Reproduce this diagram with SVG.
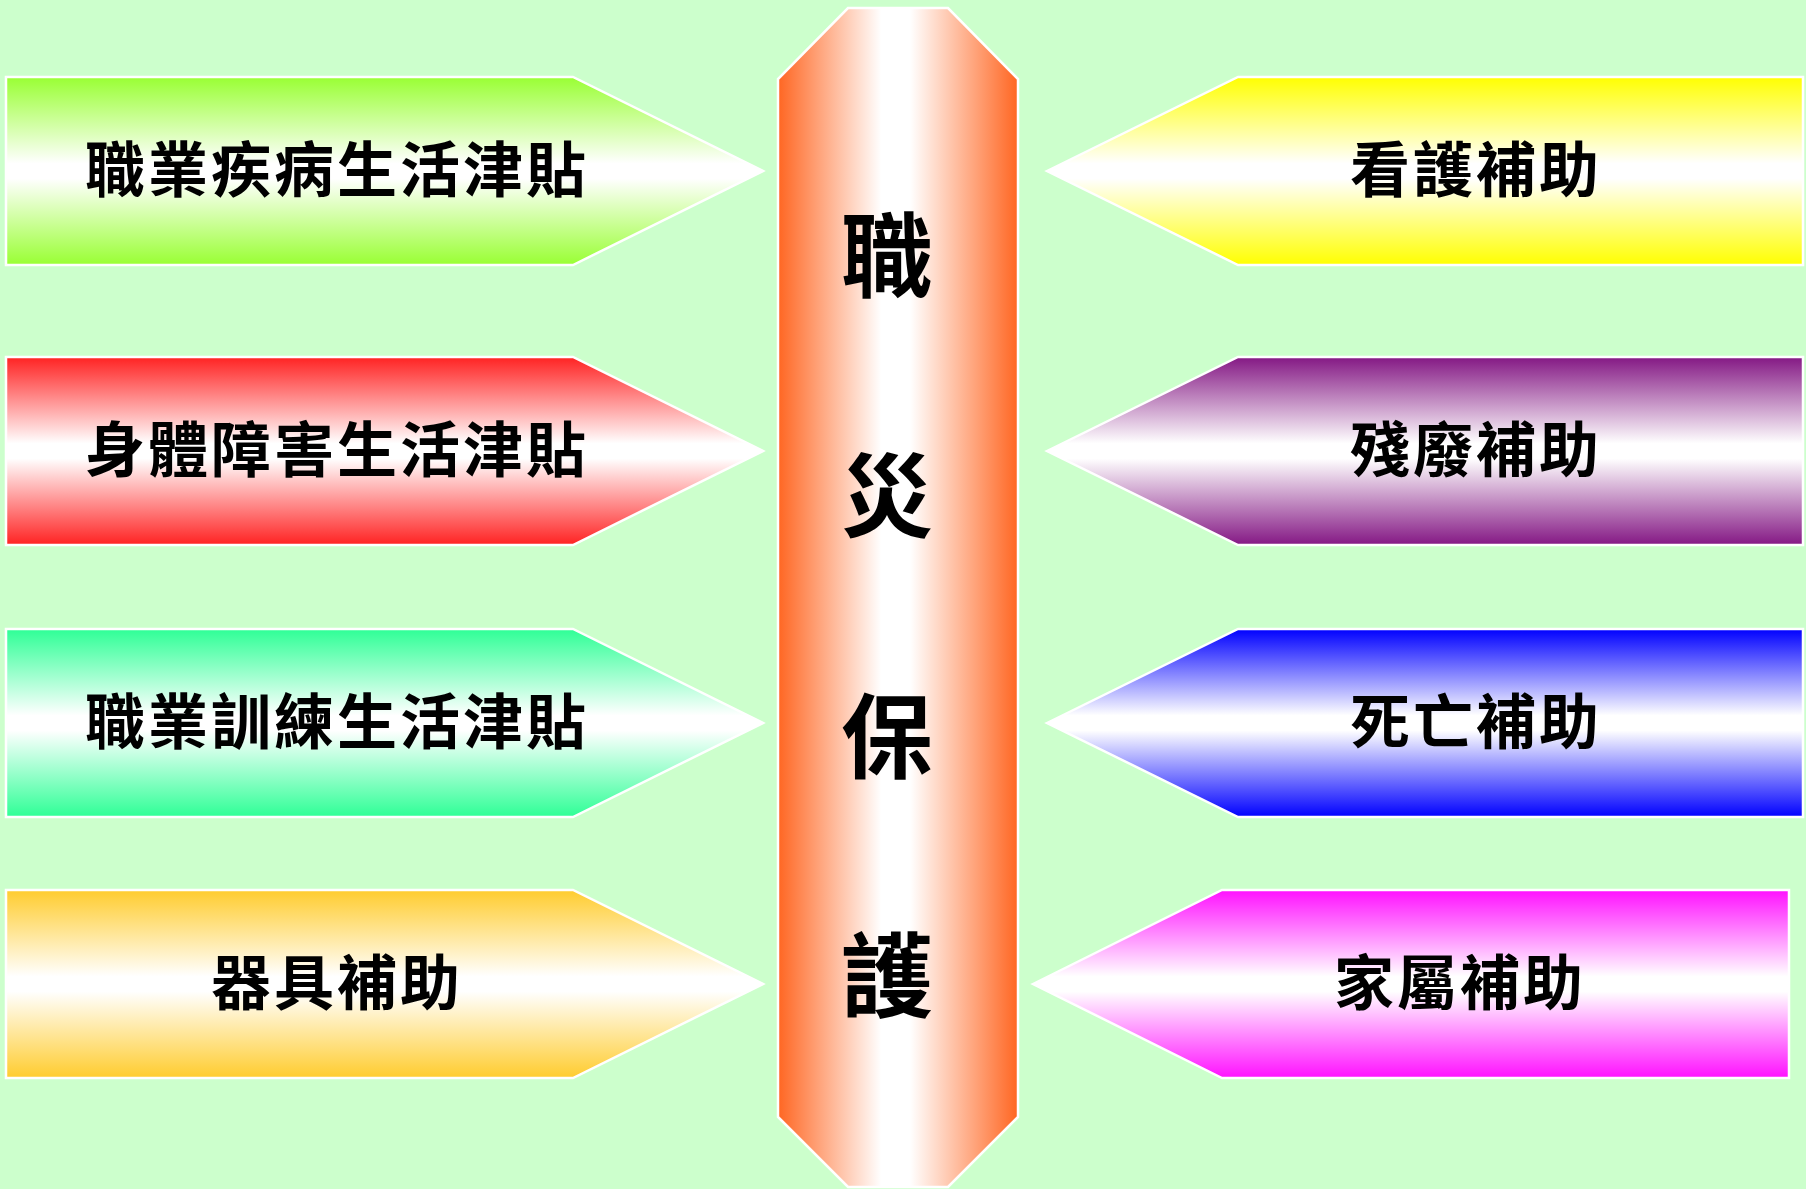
<svg xmlns="http://www.w3.org/2000/svg" width="1806" height="1189" viewBox="0 0 1806 1189">
<defs>
<linearGradient id="gGreen" x1="0" y1="0" x2="0" y2="1"><stop offset="0" stop-color="#99FF33"/><stop offset="0.46" stop-color="#FFFFFF"/><stop offset="0.54" stop-color="#FFFFFF"/><stop offset="1" stop-color="#99FF33"/></linearGradient>
<linearGradient id="gRed" x1="0" y1="0" x2="0" y2="1"><stop offset="0" stop-color="#FF2222"/><stop offset="0.46" stop-color="#FFFFFF"/><stop offset="0.54" stop-color="#FFFFFF"/><stop offset="1" stop-color="#FF2222"/></linearGradient>
<linearGradient id="gSpring" x1="0" y1="0" x2="0" y2="1"><stop offset="0" stop-color="#2EFF96"/><stop offset="0.46" stop-color="#FFFFFF"/><stop offset="0.54" stop-color="#FFFFFF"/><stop offset="1" stop-color="#2EFF96"/></linearGradient>
<linearGradient id="gGold" x1="0" y1="0" x2="0" y2="1"><stop offset="0" stop-color="#FFCC2E"/><stop offset="0.46" stop-color="#FFFFFF"/><stop offset="0.54" stop-color="#FFFFFF"/><stop offset="1" stop-color="#FFCC2E"/></linearGradient>
<linearGradient id="gYellow" x1="0" y1="0" x2="0" y2="1"><stop offset="0" stop-color="#FFFF00"/><stop offset="0.46" stop-color="#FFFFFF"/><stop offset="0.54" stop-color="#FFFFFF"/><stop offset="1" stop-color="#FFFF00"/></linearGradient>
<linearGradient id="gPurple" x1="0" y1="0" x2="0" y2="1"><stop offset="0" stop-color="#841884"/><stop offset="0.46" stop-color="#FFFFFF"/><stop offset="0.54" stop-color="#FFFFFF"/><stop offset="1" stop-color="#841884"/></linearGradient>
<linearGradient id="gBlue" x1="0" y1="0" x2="0" y2="1"><stop offset="0" stop-color="#0000FF"/><stop offset="0.46" stop-color="#FFFFFF"/><stop offset="0.54" stop-color="#FFFFFF"/><stop offset="1" stop-color="#0000FF"/></linearGradient>
<linearGradient id="gMagenta" x1="0" y1="0" x2="0" y2="1"><stop offset="0" stop-color="#FF11FF"/><stop offset="0.46" stop-color="#FFFFFF"/><stop offset="0.54" stop-color="#FFFFFF"/><stop offset="1" stop-color="#FF11FF"/></linearGradient>
<linearGradient id="gCenter" gradientUnits="userSpaceOnUse" x1="778" y1="0" x2="1018" y2="0"><stop offset="0" stop-color="#FF6622"/><stop offset="0.43" stop-color="#FFFFFF"/><stop offset="0.55" stop-color="#FFFFFF"/><stop offset="1" stop-color="#FF6622"/></linearGradient>
</defs>
<style>
.shape{stroke:#FFFFFF;stroke-width:2.5}
.lbl{font-family:"Noto Sans CJK TC","Noto Sans CJK SC",sans-serif;font-weight:700;font-size:60px;fill:#000000;text-anchor:middle;dominant-baseline:central;letter-spacing:3px}
.big{font-family:"Noto Sans CJK TC","Noto Sans CJK SC",sans-serif;font-weight:700;font-size:92px;fill:#000000;text-anchor:middle;dominant-baseline:central}
</style>
<rect x="0" y="0" width="1806" height="1189" fill="#CCFFCC"/>
<g id="center">
<polygon class="shape" points="848,8 948,8 1018,79 1018,1117 948,1187 848,1187 778,1117 778,79" fill="url(#gCenter)" stroke-width="4"/>
<text class="big" x="887" y="249">職</text>
<text class="big" x="887" y="489">災</text>
<text class="big" x="887" y="730">保</text>
<text class="big" x="887" y="969">護</text>
</g>
<g id="left1">
<polygon class="shape" points="6,77 573,77 763,171 573,265 6,265" fill="url(#gGreen)"/>
<text class="lbl" x="337" y="165">職業疾病生活津貼</text>
</g>
<g id="left2">
<polygon class="shape" points="6,357 573,357 763,451 573,545 6,545" fill="url(#gRed)"/>
<text class="lbl" x="337" y="445">身體障害生活津貼</text>
</g>
<g id="left3">
<polygon class="shape" points="6,629 573,629 763,723 573,817 6,817" fill="url(#gSpring)"/>
<text class="lbl" x="337" y="717">職業訓練生活津貼</text>
</g>
<g id="left4">
<polygon class="shape" points="6,890 573,890 763,984 573,1078 6,1078" fill="url(#gGold)"/>
<text class="lbl" x="337" y="978">器具補助</text>
</g>
<g id="right1">
<polygon class="shape" points="1047,171 1238,77 1803,77 1803,265 1238,265" fill="url(#gYellow)"/>
<text class="lbl" x="1476" y="165">看護補助</text>
</g>
<g id="right2">
<polygon class="shape" points="1047,451 1238,357 1803,357 1803,545 1238,545" fill="url(#gPurple)"/>
<text class="lbl" x="1476" y="445">殘廢補助</text>
</g>
<g id="right3">
<polygon class="shape" points="1047,723 1238,629 1803,629 1803,817 1238,817" fill="url(#gBlue)"/>
<text class="lbl" x="1476" y="717">死亡補助</text>
</g>
<g id="right4">
<polygon class="shape" points="1033,984 1222,890 1789,890 1789,1078 1222,1078" fill="url(#gMagenta)"/>
<text class="lbl" x="1460" y="978">家屬補助</text>
</g>
<g id="connectors"></g>
</svg>
